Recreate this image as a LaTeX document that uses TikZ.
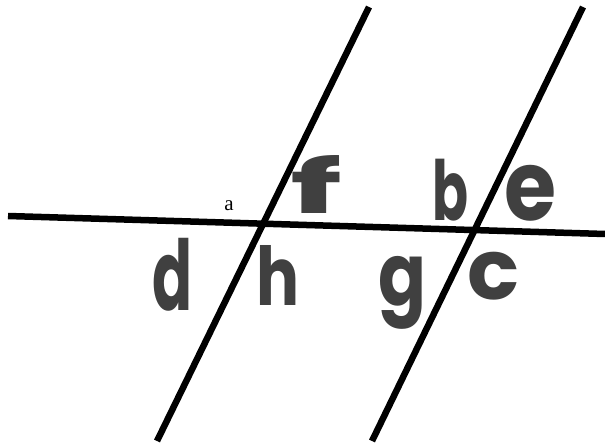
\documentclass[tikz,border=0pt]{standalone}
\usepackage{fontspec}
\newfontfamily\hand{Poppins}
\newfontfamily\serifa{Liberation Serif}
\usepackage{graphicx}
\tikzset{
  thickline/.style={line width=6.5pt, black, line cap=butt},
  letter/.style={inner sep=0pt, text=black!75},
}
\newcommand{\hl}[3]{\resizebox*{#1pt}{#2pt}{\hand\bfseries #3}}
\begin{document}
\begin{tikzpicture}[x=1pt,y=-1pt]
\useasboundingbox (0,0) rectangle (605,446);
% line end points
\coordinate (hL) at (8,216);
\coordinate (hR) at (605,234);
\coordinate (aT) at (369,7);
\coordinate (aB) at (157,441);
\coordinate (bT) at (583,7);
\coordinate (bB) at (372,441);
\draw[thickline] (hL) -- (hR);
\draw[thickline] (aT) -- (aB);
\draw[thickline] (bT) -- (bB);
% labels
\node[inner sep=0pt, font=\serifa\fontsize{21}{21}\selectfont] (la) at (229,206) {a};
\node[letter] (lf) at (317,185) {\hl{52}{58}{f}};
\node[letter] (lb) at (450,190) {\hl{36}{62}{b}};
\node[letter] (le) at (531,193) {\hl{52}{56}{e}};
\node[letter] (ld) at (173,275) {\hl{40}{73}{d}};
\node[letter] (lh) at (278,275) {\hl{43}{60}{h}};
\node[letter] (lg) at (402,293) {\hl{48}{73}{g}};
\node[letter] (lc) at (494,276) {\hl{52}{48}{c}};
\end{tikzpicture}
\end{document}
